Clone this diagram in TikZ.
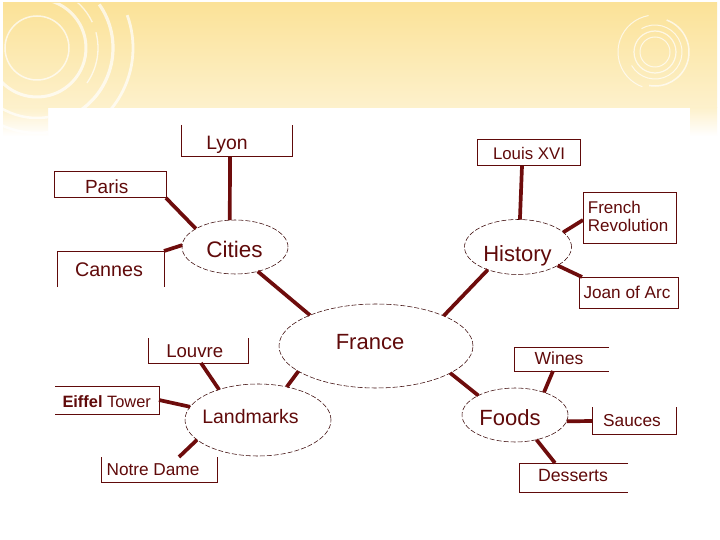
\documentclass[tikz,border=0pt]{standalone}
\usepackage{fontspec}
\setmainfont{Liberation Sans}
\usetikzlibrary{shapes.geometric}
\definecolor{dred}{RGB}{96,10,10}
\definecolor{lred}{RGB}{110,12,12}
\definecolor{ytop}{RGB}{251,226,152}
\definecolor{ybot}{RGB}{253,241,204}
\newcommand{\fs}[1]{\fontsize{#1}{#1}\selectfont}
\begin{document}
\begin{tikzpicture}[x=1pt,y=-1pt,
  txt/.style={text=dred, inner sep=0, anchor=base},
  boxshape/.style={draw=none, inner sep=0, outer sep=0, rectangle},
  side/.style={draw=dred, line width=1pt},
  oval/.style={ellipse, draw=dred!60!black, line width=0.55pt, dash pattern=on 5pt off 2pt, inner sep=0, outer sep=0},
  link/.style={draw=lred, line width=3.7pt},
  ring/.style={draw=white, draw opacity=0.7}
]
\useasboundingbox (0,0) rectangle (720,540);
\fill[white] (0,0) rectangle (720,540);
% background band
\shade[top color=ytop, bottom color=ybot] (3,3) rectangle (717,108);
\shade[top color=ybot, bottom color=white] (3,108) rectangle (48,136);
\shade[top color=ybot, bottom color=white] (690,108) rectangle (717,136);
\begin{scope}
  \clip (3,3) rectangle (717,108) (3,108) rectangle (48,136) (690,108) rectangle (717,136);
  % top-left rings
  \draw[ring, line width=1.5pt] (37,48) circle[radius=32];
  \draw[ring, line width=3pt] (37,48) ++(-80:49) arc[start angle=-80, end angle=165, radius=49];
  \draw[ring, line width=1.3pt] (37,48) ++(-65:61) arc[start angle=-65, end angle=-25, radius=61];
  \draw[ring, line width=1.3pt] (37,48) ++(-15:61) arc[start angle=-15, end angle=35, radius=61];
  \draw[ring, line width=3.2pt] (37,48) ++(-35:76) arc[start angle=-35, end angle=55, radius=76];
  \draw[ring, line width=2.8pt] (37,48) ++(-20:96) arc[start angle=-20, end angle=42, radius=96];
  \draw[ring, line width=2.5pt] (37,48) ++(75:70) arc[start angle=75, end angle=150, radius=70];
  \draw[ring, line width=2.5pt] (37,48) ++(80:85) arc[start angle=80, end angle=145, radius=85];
  % top-right rings
  \draw[ring, line width=1pt] (655,52) circle[radius=15];
  \draw[ring, line width=1.2pt] (655,52) circle[radius=21];
  \draw[ring, line width=1pt] (655,52) ++(-120:27) arc[start angle=-120, end angle=150, radius=27];
  \draw[ring, line width=1.5pt] (655,52) ++(-70:34) arc[start angle=-70, end angle=100, radius=34];
  \draw[ring, line width=1pt] (655,52) ++(110:37) arc[start angle=110, end angle=200, radius=37];
  \draw[ring, line width=1pt] (655,52) ++(-160:37) arc[start angle=-160, end angle=-100, radius=37];
\end{scope}

% ellipses
\node[oval, minimum width=194pt, minimum height=84pt] (france) at (376,346) {};
\node[oval, minimum width=106pt, minimum height=54pt] (cities) at (235,247) {};
\node[oval, minimum width=107pt, minimum height=55pt] (history) at (518,247) {};
\node[oval, minimum width=146pt, minimum height=72pt] (landmarks) at (258,420) {};
\node[oval, minimum width=106pt, minimum height=54pt] (foods) at (515,415) {};

\node[txt, font=\fs{22}] (franceT) at (370,349.3) {France};
\node[txt, font=\fs{22.5}] (citiesT) at (234.5,257) {Cities};
\node[txt, font=\fs{22}] (historyT) at (517.5,261.7) {History};
\node[txt, font=\fs{19.5}] (landmarksT) at (250.5,423.3) {Landmarks};
\node[txt, font=\fs{22}] (foodsT) at (510,425) {Foods};

% boxes
\node[boxshape, minimum width=111pt, minimum height=32pt] (lyonB) at (236.5,141) {};
\node[boxshape, minimum width=112pt, minimum height=26pt] (parisB) at (110,185) {};
\node[boxshape, minimum width=107pt, minimum height=36pt] (cannesB) at (110.5,269) {};
\node[boxshape, minimum width=103pt, minimum height=26pt] (louisB) at (528.5,153) {};
\node[boxshape, minimum width=93pt, minimum height=50pt] (frB) at (629.5,218) {};
\node[boxshape, minimum width=99pt, minimum height=31pt] (joanB) at (628.5,292.5) {};
\node[boxshape, minimum width=100pt, minimum height=25pt] (louvreB) at (198,350.5) {};
\node[boxshape, minimum width=104pt, minimum height=28pt] (eiffelB) at (107,400) {};
\node[boxshape, minimum width=116pt, minimum height=25pt] (notreB) at (159,469.5) {};
\node[boxshape, minimum width=95pt, minimum height=24pt] (winesB) at (561.5,359) {};
\node[boxshape, minimum width=84pt, minimum height=27pt] (saucesB) at (634,420.5) {};
\node[boxshape, minimum width=109pt, minimum height=29pt] (dessertsB) at (573.5,477.5) {};

\draw[side] (lyonB.north west) -- (lyonB.south west) -- (lyonB.south east) -- (lyonB.north east);
\draw[side] (parisB.north west) rectangle (parisB.south east);
\draw[side] (cannesB.south west) -- (cannesB.north west) -- (cannesB.north east) -- (cannesB.south east);
\draw[side] (louisB.north west) rectangle (louisB.south east);
\draw[side] (frB.north west) rectangle (frB.south east);
\draw[side] (joanB.north west) rectangle (joanB.south east);
\draw[side] (louvreB.north west) -- (louvreB.south west) -- (louvreB.south east) -- (louvreB.north east);
\draw[side] (eiffelB.north west) -- (eiffelB.north east) -- (eiffelB.south east) -- (eiffelB.south west);
\draw[side] (notreB.north west) -- (notreB.south west) -- (notreB.south east) -- (notreB.north east);
\draw[side] (winesB.north east) -- (winesB.north west) -- (winesB.south west) -- (winesB.south east);
\draw[side] (saucesB.north west) -- (saucesB.south west) -- (saucesB.south east) -- (saucesB.north east);
\draw[side] (dessertsB.north east) -- (dessertsB.north west) -- (dessertsB.south west) -- (dessertsB.south east);

% box texts
\node[txt, font=\fs{19.4}] (lyon) at (227,149.3) {Lyon};
\node[txt, font=\fs{19}] (paris) at (106.7,193.3) {Paris};
\node[txt, font=\fs{19.7}] (cannes) at (109,276) {Cannes};
\node[txt, font=\fs{16.8}] (louis) at (529,159.3) {Louis XVI};
\node[txt, font=\fs{17}, anchor=base west] (fr1) at (587.7,213.3) {French};
\node[txt, font=\fs{17}, anchor=base west] (fr2) at (587.7,231.7) {Revolution};
\node[txt, font=\fs{17.2}] (joan) at (627,298.3) {Joan of Arc};
\node[txt, font=\fs{18.6}] (louvre) at (194.7,357.3) {Louvre};
\node[txt, font=\fs{16.4}] (eiffel) at (106.7,407.3) {\textbf{Eiffel} Tower};
\node[txt, font=\fs{17.2}] (notre) at (153,475.7) {Notre Dame};
\node[txt, font=\fs{17.5}] (wines) at (559,364) {Wines};
\node[txt, font=\fs{17.3}] (sauces) at (632,426.7) {Sauces};
\node[txt, font=\fs{17.7}] (desserts) at (573,481.7) {Desserts};

% connectors
\draw[link] ([xshift=49pt]lyonB.south west) -- (cities.101);
\draw[link] (parisB.south east) -- (cities.155);
\draw[link] (cannesB.north east) -- (cities.178);
\draw[link] (cities.-47) -- (france.155);
\draw[link] ([xshift=45pt]louisB.south west) -- (history.86);
\draw[link] ([yshift=23pt]frB.south west) -- (history.18);
\draw[link] ([xshift=3pt]joanB.north west) -- (history.-25);
\draw[link] (history.217) -- (france.24);
\draw[link] ([xshift=53pt]louvreB.south west) -- (landmarks.142);
\draw[link] ([yshift=14pt]eiffelB.south east) -- (landmarks.169);
\draw[link] ([xshift=78pt]notreB.north west) -- (landmarks.198);
\draw[link] (france.198) -- (landmarks.49);
\draw[link] ([xshift=39pt]winesB.south west) -- (foods.38);
\draw[link] ([yshift=13pt]saucesB.south west) -- (foods.-7);
\draw[link] ([xshift=36pt]dessertsB.north west) -- (foods.-49);
\draw[link] (france.-20) -- (foods.152);
\end{tikzpicture}
\end{document}
